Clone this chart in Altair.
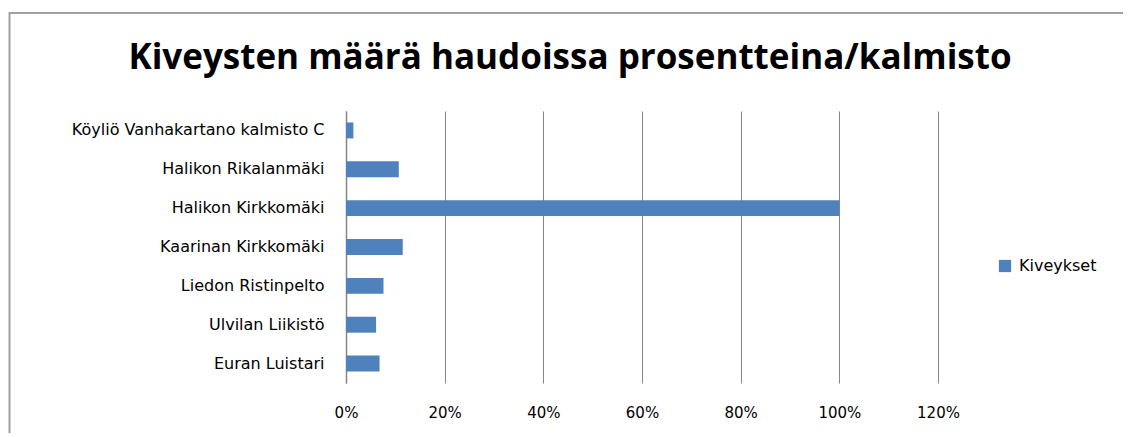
import altair as alt
import pandas as pd

categories = [
    "Köyliö Vanhakartano kalmisto C",
    "Halikon Rikalanmäki",
    "Halikon Kirkkomäki",
    "Kaarinan Kirkkomäki",
    "Liedon Ristinpelto",
    "Ulvilan Liikistö",
    "Euran Luistari",
]
values = [0.015, 0.107, 1.0, 0.115, 0.076, 0.061, 0.068]
series_name = "Kiveykset"
x_ticks = [0, 0.2, 0.4, 0.6, 0.8, 1.0, 1.2]
title_text = "Kiveysten määrä haudoissa prosentteina/kalmisto"

df = pd.DataFrame({"category": categories, "value": values, "series": [series_name] * len(categories)})

W, H = 592, 272
FONT = "DejaVu Sans"

bars = alt.Chart(df).mark_bar(color="#4F81BD").encode(
    y=alt.Y(
        "category:N",
        sort=categories,
        title=None,
        scale=alt.Scale(paddingInner=0.59, paddingOuter=0.295),
        axis=alt.Axis(
            domainColor="#868686", domainWidth=1.5, ticks=False, labelPadding=22,
            labelFontSize=16, labelFont=FONT, labelColor="#000000", labelLimit=400,
        ),
    ),
    x=alt.X(
        "value:Q",
        title=None,
        scale=alt.Scale(domain=[0, 1.2], nice=False),
        axis=alt.Axis(
            values=x_ticks, format=".0%", domain=False, ticks=False, grid=True,
            gridColor="#868686", gridWidth=1, labelPadding=22, labelFlush=False,
            labelFontSize=15, labelFont=FONT, labelColor="#000000",
        ),
    ),
    color=alt.Color(
        "series:N",
        title=None,
        scale=alt.Scale(range=["#4F81BD"]),
        legend=alt.Legend(
            orient="none", legendX=651, legendY=147, symbolType="square",
            symbolSize=150, symbolStrokeWidth=0, labelFontSize=16, labelFont=FONT,
            labelColor="#000000", labelOffset=6,
        ),
    ),
)

frame = alt.Chart(pd.DataFrame({"a": [0]})).mark_rect(
    fillOpacity=0, stroke="#a0a0a0", strokeWidth=2
).encode(
    x=alt.value(-336.5), x2=alt.value(820), y=alt.value(-98), y2=alt.value(340)
)

title = alt.Chart(pd.DataFrame({"t": [title_text]})).mark_text(
    font="Open Sans", fontSize=35, fontWeight="bold", color="#000000",
    align="center", baseline="middle",
).encode(
    x=alt.value(224), y=alt.value(-53), text="t:N"
)

chart = alt.layer(frame, title, bars).properties(
    width=W,
    height=H,
    autosize=alt.AutoSizeParams(type="none"),
    padding={"left": 338, "top": 103, "right": 185, "bottom": 50},
).configure_view(stroke="transparent")

chart.save("out.html", embed_options={"renderer": "svg", "actions": False})
